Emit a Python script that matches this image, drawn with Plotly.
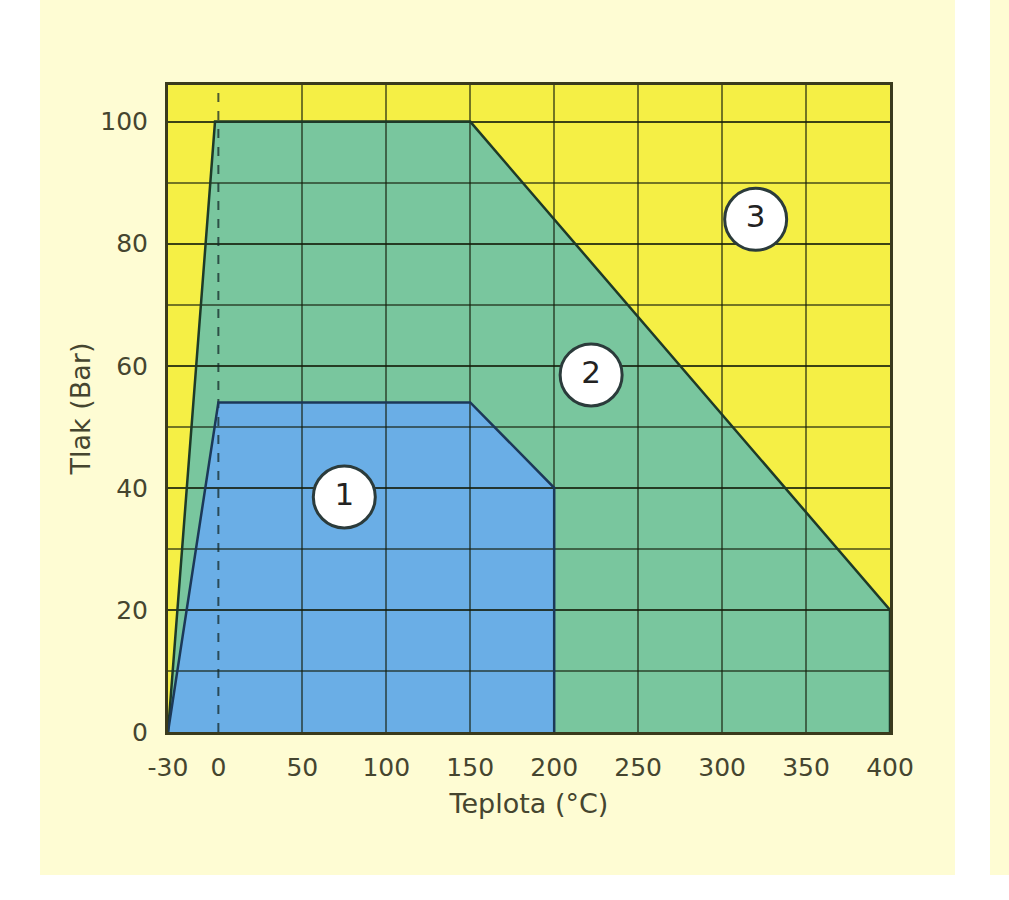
import plotly.graph_objects as go

# ---- data ----
zone2_t = [-30, -2, 150, 400, 400]
zone2_p = [0, 100, 100, 20, 0]
zone1_t = [-30, 0, 150, 200, 200]
zone1_p = [0, 54, 54, 40, 0]
label_t = [75, 222, 320]
label_p = [38.5, 58.5, 84]
label_text = ["1", "2", "3"]
x_ticks = [-30, 0, 50, 100, 150, 200, 250, 300, 350, 400]
x_grid = [50, 100, 150, 200, 250, 300, 350, 400]
y_ticks = [0, 20, 40, 60, 80, 100]
dashed_t = [0, 0]
dashed_p = [0, 106]

YELLOW = "#f5ef45"
GREEN = "#79c69e"
BLUE = "#6aaee6"
PAPER = "#fefcd3"
GRID = "rgba(20,30,10,0.58)"
TXT = "#45452f"
FONT = "DejaVu Sans"


def path_from(xs, ys):
    pts = [f"{x},{y}" for x, y in zip(xs, ys)]
    return "M " + " L ".join(pts) + " Z"


fig = go.Figure()

# Filled zones (below gridlines)
fig.add_shape(type="path", path=path_from(zone2_t, zone2_p), xref="x", yref="y",
              fillcolor=GREEN, line=dict(width=0), layer="below")
fig.add_shape(type="path", path=path_from(zone1_t, zone1_p), xref="x", yref="y",
              fillcolor=BLUE, line=dict(width=0), layer="below")

# white page areas outside the panel
for x0, x1, y0, y1 in [(-0.3, -0.1773, -0.4, 1.3), (1.09, 1.1385, -0.4, 1.3),
                       (-0.3, 1.3, -0.4, -0.221)]:
    fig.add_shape(type="rect", xref="paper", yref="paper", x0=x0, x1=x1, y0=y0, y1=y1,
                  fillcolor="white", line=dict(width=0), layer="below")

# dashed line at 0 °C
fig.add_trace(go.Scatter(x=dashed_t, y=dashed_p, mode="lines",
                         line=dict(color="rgba(20,40,40,0.75)", width=2, dash="dash"),
                         hoverinfo="skip", showlegend=False))

# Zone outlines
fig.add_trace(go.Scatter(x=zone2_t, y=zone2_p, mode="lines",
                         line=dict(color="#1e3a28", width=2.5),
                         hoverinfo="skip", showlegend=False))
fig.add_trace(go.Scatter(x=zone1_t, y=zone1_p, mode="lines",
                         line=dict(color="#1c3858", width=2.5),
                         hoverinfo="skip", showlegend=False))

# Circled zone labels
fig.add_trace(go.Scatter(x=label_t, y=label_p, mode="markers+text", text=label_text,
                         textposition="middle center",
                         textfont=dict(family=FONT, size=31, color="#222222"),
                         marker=dict(size=62, color="white", line=dict(color="#2b3b3b", width=3)),
                         hoverinfo="skip", showlegend=False, cliponaxis=False))

fig.update_layout(
    width=1009, height=900,
    margin=dict(l=168, r=119, t=85, b=168),
    paper_bgcolor=PAPER,
    plot_bgcolor=YELLOW,
    showlegend=False,
    font=dict(family=FONT, color=TXT),
)

fig.update_xaxes(
    range=[-30, 400], tickmode="array", tickvals=x_ticks, ticktext=[str(v) for v in x_ticks],
    showgrid=False, zeroline=False,
    ticks="outside", ticklen=11, tickcolor="rgba(0,0,0,0)",
    tickfont=dict(size=25, color=TXT),
    minor=dict(tickmode="array", tickvals=x_grid, showgrid=True, gridcolor=GRID, gridwidth=2,
               ticks=""),
    showline=True, mirror=True, linecolor="#3a3a1c", linewidth=3,
    title=dict(text="Teplota (°C)", font=dict(size=27, color=TXT), standoff=14),
)
fig.update_yaxes(
    range=[0, 106], tickmode="array", tickvals=y_ticks,
    showgrid=True, gridcolor=GRID, gridwidth=2, zeroline=False,
    ticks="outside", ticklen=12, tickcolor="rgba(0,0,0,0)",
    tickfont=dict(size=25, color=TXT),
    minor=dict(dtick=10, tick0=0, showgrid=True, gridcolor=GRID, gridwidth=2, ticks=""),
    showline=True, mirror=True, linecolor="#3a3a1c", linewidth=3,
    title=dict(text="Tlak (Bar)", font=dict(size=27, color=TXT), standoff=2),
)

fig.write_html("out.html", config={"displayModeBar": False},
               post_script="document.body.style.margin='0';document.body.style.background='%s';" % PAPER)
